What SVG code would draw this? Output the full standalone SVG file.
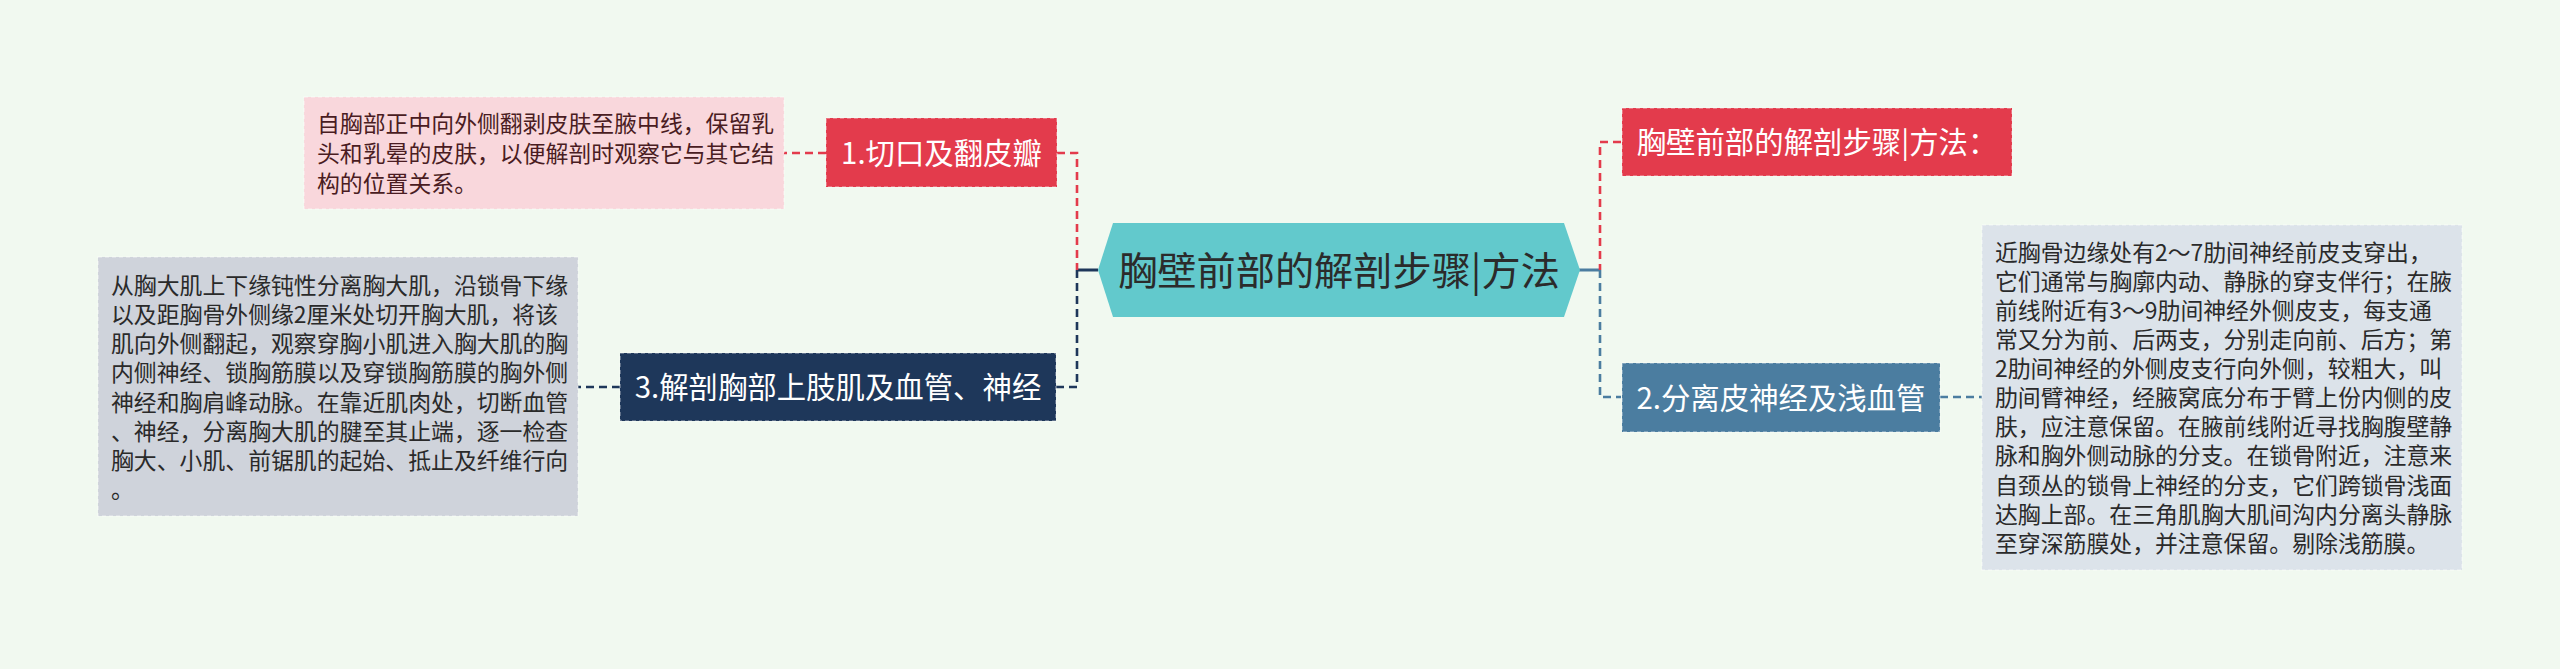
<svg xmlns="http://www.w3.org/2000/svg" width="2560" height="669" viewBox="0 0 2560 669">
<style>
.t{font-family:"Noto Sans CJK SC","Noto Sans",sans-serif}
.box{stroke:#ffffff;stroke-opacity:0.4;stroke-width:1.5;stroke-dasharray:4 3}
.title{font-size:29.4px;fill:#ffffff;text-anchor:middle}
.body{font-size:22.86px;fill:#2a2a2a}
.dash{fill:none;stroke-width:2.6;stroke-dasharray:8 5}
.solid{fill:none;stroke-width:3}
</style>
<rect x="0" y="0" width="2560" height="669" fill="#F1F9F0"/>
<g id="connectors">
<path class="solid" d="M1098 270 H1077" stroke="#1E375A"/>
<path class="dash" d="M1057 153 H1077 V270" stroke="#E33B4C"/>
<path class="dash" d="M1077 270 V387 H1056" stroke="#1E375A"/>
<path class="dash" d="M826 153 H784" stroke="#E33B4C"/>
<path class="dash" d="M620 387 H578" stroke="#1E375A"/>
<path class="solid" d="M1579 270 H1600" stroke="#4B7DA0"/>
<path class="dash" d="M1621 142 H1600 V270" stroke="#E33B4C"/>
<path class="dash" d="M1600 270 V397 H1621" stroke="#4B7DA0"/>
<path class="dash" d="M1940 397 H1982" stroke="#4B7DA0"/>
</g>
<g id="root">
<polygon points="1098,270 1113,223 1564,223 1580,270 1564,317 1113,317" fill="#62C9CC"/>
<text class="t" x="1339" y="285" font-size="39.2" fill="#2b2b2b" text-anchor="middle">胸壁前部的解剖步骤|方法</text>
</g>
<g id="n1">
<rect class="box" x="826" y="118" width="231" height="69" fill="#E33B4C"/>
<text class="t title" x="941.5" y="163.7">1.切口及翻皮瓣</text>
</g>
<g id="n1note">
<rect class="box" x="304" y="97" width="480" height="112" fill="#F9D7DC"/>
<text class="t body" fill="#4a1c22" style="fill:#4a1c22">
<tspan x="317" y="132.2">自胸部正中向外侧翻剥皮肤至腋中线，保留乳</tspan>
<tspan x="317" y="162.2">头和乳晕的皮肤，以便解剖时观察它与其它结</tspan>
<tspan x="317" y="192.2">构的位置关系。</tspan>
</text>
</g>
<g id="n3">
<rect class="box" x="620" y="353" width="436" height="68" fill="#1E375A"/>
<text class="t title" x="838" y="398.2">3.解剖胸部上肢肌及血管、神经</text>
</g>
<g id="n3note">
<rect class="box" x="98" y="257" width="480" height="259" fill="#CFD3DB"/>
<text class="t body">
<tspan x="111" y="293.7">从胸大肌上下缘钝性分离胸大肌，沿锁骨下缘</tspan>
<tspan x="111" y="322.9">以及距胸骨外侧缘2厘米处切开胸大肌，将该</tspan>
<tspan x="111" y="352.1">肌向外侧翻起，观察穿胸小肌进入胸大肌的胸</tspan>
<tspan x="111" y="381.3">内侧神经、锁胸筋膜以及穿锁胸筋膜的胸外侧</tspan>
<tspan x="111" y="410.5">神经和胸肩峰动脉。在靠近肌肉处，切断血管</tspan>
<tspan x="111" y="439.7">、神经，分离胸大肌的腱至其止端，逐一检查</tspan>
<tspan x="111" y="468.9">胸大、小肌、前锯肌的起始、抵止及纤维行向</tspan>
<tspan x="111" y="498.1">。</tspan>
</text>
</g>
<g id="n0">
<rect class="box" x="1622" y="108" width="390" height="68" fill="#E33B4C"/>
<text class="t title" x="1817" y="153.2">胸壁前部的解剖步骤|方法：</text>
</g>
<g id="n2">
<rect class="box" x="1622" y="363" width="318" height="69" fill="#4B7DA0"/>
<text class="t title" x="1781" y="408.7">2.分离皮神经及浅血管</text>
</g>
<g id="n2note">
<rect class="box" x="1982" y="225" width="480" height="345" fill="#DCE3EA"/>
<text class="t body">
<tspan x="1995" y="260.7">近胸骨边缘处有2～7肋间神经前皮支穿出，</tspan>
<tspan x="1995" y="289.8">它们通常与胸廓内动、静脉的穿支伴行；在腋</tspan>
<tspan x="1995" y="318.9">前线附近有3～9肋间神经外侧皮支，每支通</tspan>
<tspan x="1995" y="348.0">常又分为前、后两支，分别走向前、后方；第</tspan>
<tspan x="1995" y="377.1">2肋间神经的外侧皮支行向外侧，较粗大，叫</tspan>
<tspan x="1995" y="406.2">肋间臂神经，经腋窝底分布于臂上份内侧的皮</tspan>
<tspan x="1995" y="435.3">肤，应注意保留。在腋前线附近寻找胸腹壁静</tspan>
<tspan x="1995" y="464.4">脉和胸外侧动脉的分支。在锁骨附近，注意来</tspan>
<tspan x="1995" y="493.5">自颈丛的锁骨上神经的分支，它们跨锁骨浅面</tspan>
<tspan x="1995" y="522.6">达胸上部。在三角肌胸大肌间沟内分离头静脉</tspan>
<tspan x="1995" y="551.7">至穿深筋膜处，并注意保留。剔除浅筋膜。</tspan>
</text>
</g>
</svg>
